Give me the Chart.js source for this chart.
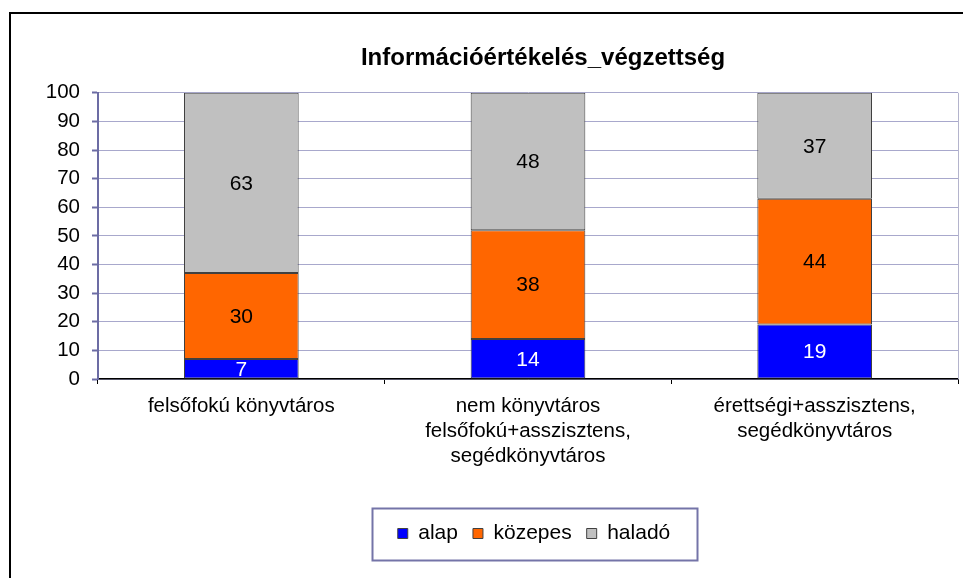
<!DOCTYPE html>
<html>
<head>
<meta charset="utf-8">
<script src="https://cdn.jsdelivr.net/npm/chart.js@4/dist/chart.umd.min.js"></script>
<style>
  html,body{margin:0;padding:0;background:#fff;overflow:hidden}
  #wrap{position:relative;width:963px;height:578px}
</style>
</head>
<body>
<div id="wrap"><canvas id="c" width="963" height="578"></canvas></div>
<script>
// Információértékelés_végzettség - halmozott oszlopdiagram
const kategoriak = [
    ['felsőfokú könyvtáros'],
    ['nem könyvtáros', 'felsőfokú+asszisztens,', 'segédkönyvtáros'],
    ['érettségi+asszisztens,', 'segédkönyvtáros']
];
const alap    = [7, 14, 19];
const kozepes = [30, 38, 44];
const halado  = [63, 48, 37];
const yTicks  = [0, 10, 20, 30, 40, 50, 60, 70, 80, 90, 100];

const FONT = 'Liberation Sans, Arial, sans-serif';

// keret, jobb oldali plot-szél, értékcímkék, jelmagyarázat doboz
const keretPlugin = {
    id: 'keret',
    beforeDraw(chart){
        const c = chart.ctx;
        c.save();
        c.fillStyle = '#fff';
        c.fillRect(0,0,chart.width,chart.height);
        c.strokeStyle = '#000'; c.lineWidth = 2;
        c.beginPath();
        c.moveTo(10, chart.height); c.lineTo(10, 13); c.lineTo(chart.width, 13);
        c.stroke();
        c.restore();
    },
    afterLayout(chart){
        const t = chart.titleBlock;
        if(t){ const d = 543 - (t.left+t.right)/2; t.left += d; t.right += d; }
        const l = chart.legend;
        if(l){ const d = 534 - (l.left+l.right)/2; l.left += d; l.right += d; }
    },
    afterDatasetsDraw(chart){
        const c = chart.ctx, a = chart.chartArea;
        c.save();
        c.strokeStyle = '#b4b4cc'; c.lineWidth = 1;
        c.beginPath(); c.moveTo(a.right+0.5, a.top); c.lineTo(a.right+0.5, a.bottom); c.stroke();
        c.font = '21px ' + FONT;
        c.textAlign = 'center'; c.textBaseline = 'middle';
        chart.data.datasets.forEach((ds, i)=>{
            const meta = chart.getDatasetMeta(i);
            meta.data.forEach((bar, j)=>{
                c.fillStyle = i === 0 ? '#fff' : '#000';
                c.fillText(String(ds.data[j]), bar.x, (bar.y + bar.base)/2 + 1);
            });
        });
        c.restore();
    },
    afterDraw(chart){
        const hb = chart.legend && chart.legend.legendHitBoxes;
        if(!hb || !hb.length) return;
        const minL = Math.min(...hb.map(h=>h.left));
        const maxR = Math.max(...hb.map(h=>h.left+h.width));
        const cy = hb[0].top + hb[0].height/2;
        const cx = (minL+maxR)/2;
        const c = chart.ctx;
        c.save();
        c.strokeStyle = '#7474a8'; c.lineWidth = 2;
        c.strokeRect(Math.round(cx-162)+0.5, Math.round(cy-26)+0.5, 325, 52);
        c.restore();
    }
};

new Chart(document.getElementById('c'), {
    type: 'bar',
    data: {
        labels: kategoriak,
        datasets: [
            {label:'alap', data:alap, backgroundColor:'#0000FF'},
            {label:'közepes', data:kozepes, backgroundColor:'#FF6600'},
            {label:'haladó', data:halado, backgroundColor:'#C0C0C0'}
        ].map(d=>Object.assign(d,{borderColor:'#404040', borderWidth:1, borderSkipped:false,
            categoryPercentage:1, barPercentage:0.4}))
    },
    options: {
        responsive:false, animation:false,
        devicePixelRatio:1,
        layout:{padding:{top:44, left:10, right:5, bottom:24}},
        plugins:{
            title:{display:true, text:'Információértékelés_végzettség', color:'#000',
                font:{family:FONT, size:24, weight:'bold'}, padding:{top:0, bottom:20}},
            legend:{position:'bottom',
                labels:{color:'#000', font:{family:FONT, size:21}, boxWidth:10, boxHeight:10, padding:15}},
            tooltip:{enabled:false}
        },
        scales:{
            x:{stacked:true,
                grid:{offset:true, drawOnChartArea:false, drawTicks:true, tickLength:5, color:'#000'},
                border:{color:'#000', width:1.5},
                ticks:{color:'#000', font:{family:FONT, size:20.5, lineHeight:1.22}, maxRotation:0, autoSkip:false, padding:10},
                afterFit(s){ s.height = 129; }
            },
            y:{stacked:true, min:0, max:100,
                afterBuildTicks(s){ s.ticks = yTicks.map(v=>({value:v})); },
                grid:{color:'#a8a8cc', lineWidth:1, tickLength:6, tickColor:'#6c6ca4', tickWidth:2},
                border:{color:'#6c6ca4', width:2},
                ticks:{color:'#000', font:{family:FONT, size:20.5}, padding:12},
                afterFit(s){ s.width = 88; }
            }
        }
    },
    plugins:[keretPlugin]
});
</script>
</body>
</html>
